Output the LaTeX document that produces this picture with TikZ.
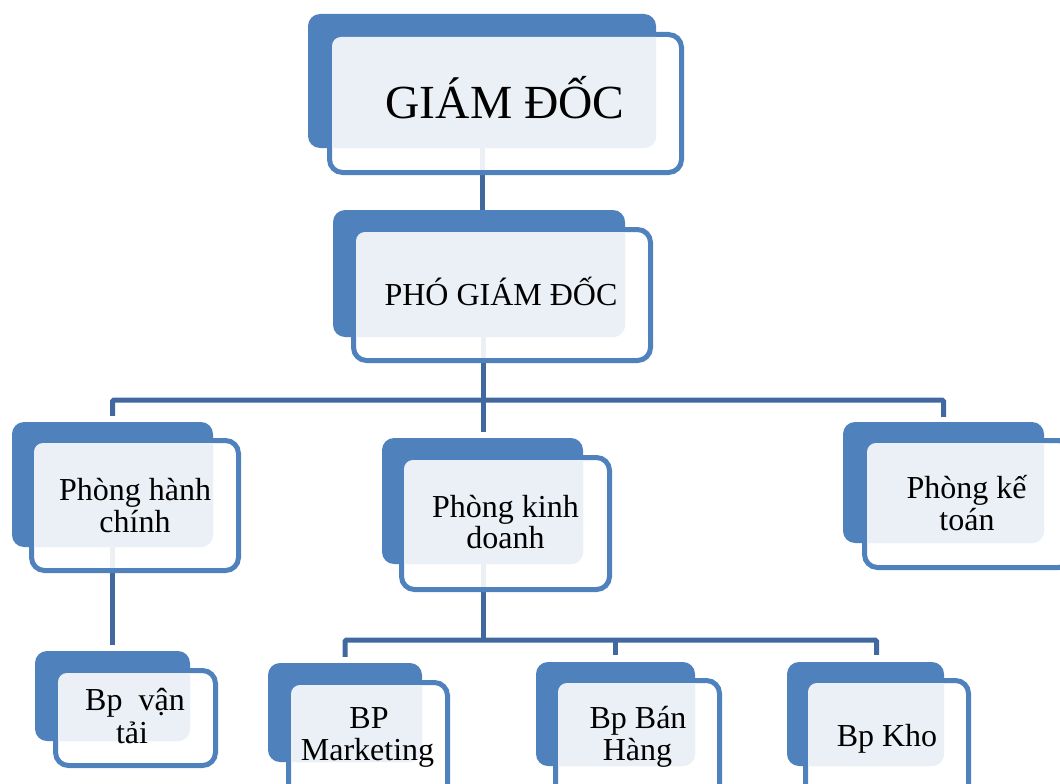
\documentclass[tikz,border=0pt]{standalone}
\usepackage{fontspec}
\setmainfont{Liberation Serif}
\usetikzlibrary{calc}
\pgfdeclarelayer{bg}
\pgfsetlayers{bg,main}
\definecolor{boxblue}{HTML}{4F81BD}
\definecolor{linkblue}{HTML}{41689F}
\definecolor{paleblue}{HTML}{EBF0F7}
\tikzset{
  backbox/.style={fill=boxblue, rounded corners=12pt, inner sep=0pt, draw=none},
  frontbox/.style={draw=boxblue, line width=5pt, fill=white, fill opacity=0.9, rounded corners=13pt, inner sep=0pt},
  conn/.style={draw=linkblue, line width=5pt},
  lbl/.style={anchor=base, inner sep=0pt, font=\fontsize{32}{33}\selectfont},
  biglbl/.style={anchor=base, inner sep=0pt, font=\fontsize{47.5}{50}\selectfont},
}
\newcommand\orgbox[9]{%
  \node[backbox, minimum width={#4-#2}, minimum height={#5-#3}] (#1) at ({(#2+#4)/2},{(#3+#5)/2}) {};
  \node[frontbox, minimum width={#8-#6-5}, minimum height={#9-#7-5}] (#1-f) at ({(#6+#8)/2},{(#7+#9)/2}) {};
  \begin{scope}
    \clip[rounded corners=9pt] ({#6+5},{#7+5}) rectangle ({#8-5},{#9-5});
    \fill[paleblue, rounded corners=12pt] (#2,#3) rectangle (#4,#5);
  \end{scope}
}
\begin{document}
\begin{tikzpicture}[x=1pt,y=-1pt]
\useasboundingbox (0,0) rectangle (1060,784);

\orgbox{gd}{308}{14}{656}{148}{327}{32}{684}{175}
\orgbox{pgd}{333}{210}{625}{337}{351}{227}{653}{363}
\orgbox{phc}{12}{422}{213}{547}{29}{438}{241}{573}
\orgbox{kdn}{382}{438}{583}{564}{399}{455}{612}{592}
\orgbox{pkt}{843}{422}{1044}{543}{862}{438}{1074}{570}
\orgbox{bvt}{35}{651}{190}{741}{53}{668}{218}{768}
\orgbox{mkt}{268}{663}{422}{762}{286}{680}{450}{800}
\orgbox{bh}{536}{662}{695}{766}{553}{678}{722}{800}
\orgbox{kho}{787}{662}{944}{766}{803}{678}{971}{800}

\node[biglbl] (gd-t) at (505,118) {GIÁM ĐỐC};
\node[lbl] (pgd-t) at (501,305) {PHÓ GIÁM ĐỐC};
\node[lbl] (phc-t1) at (135,500) {Phòng hành};
\node[lbl] (phc-t2) at (135,532) {chính};
\node[lbl] (kdn-t1) at (505.5,517) {Phòng kinh};
\node[lbl] (kdn-t2) at (505.5,548) {doanh};
\node[lbl] (pkt-t1) at (966.5,498) {Phòng kế};
\node[lbl] (pkt-t2) at (967,530) {toán};
\node[lbl] (bvt-t1) at (135,710) {Bp\ \ vận};
\node[lbl] (bvt-t2) at (132,743) {tải};
\node[lbl] (mkt-t1) at (369,728) {BP};
\node[lbl] (mkt-t2) at (367.5,760) {Marketing};
\node[lbl] (bh-t1) at (638,728) {Bp Bán};
\node[lbl] (bh-t2) at (637.5,760) {Hàng};
\node[lbl] (kho-t) at (887,746) {Bp Kho};

\begin{pgfonlayer}{bg}
  \draw[conn] (gd.south) -- (gd.south |- pgd.north);
  \coordinate (j1) at (483,400);
  \draw[conn, shorten >=6pt] (pgd.south -| j1) -- (kdn.north -| j1);
  \draw[conn, shorten <=6pt, shorten >=5pt, rounded corners=1.5pt] (phc.north) |- (j1) -| (pkt.north);
  \draw[conn, shorten >=6pt] (phc.south) -- (bvt.north);
  \coordinate (j2) at (483,640);
  \draw[conn] (kdn.south -| j2) -- (j2);
  \draw[conn, shorten <=6pt, shorten >=7pt, rounded corners=1.5pt] (mkt.north) |- (j2) -| ([xshift=11pt]kho.north);
  \draw[conn, shorten >=7pt] (j2 -| bh.north) -- (bh.north);
\end{pgfonlayer}
\end{tikzpicture}
\end{document}
